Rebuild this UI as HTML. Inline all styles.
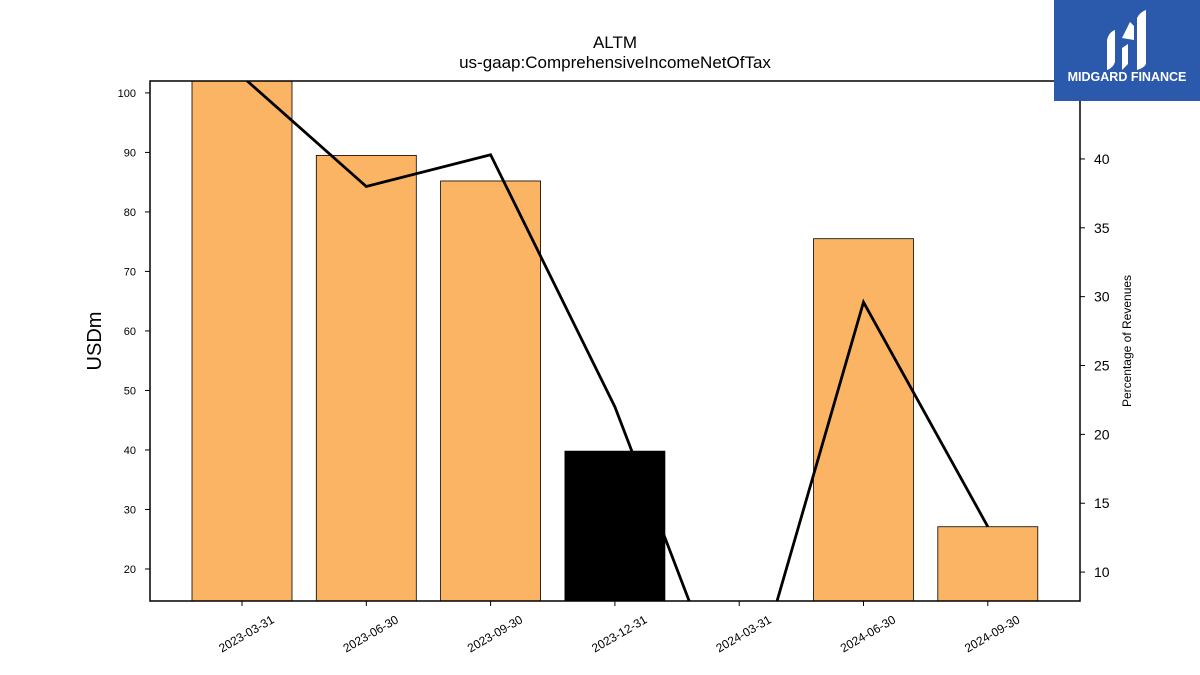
<!DOCTYPE html>
<html><head><meta charset="utf-8"><style>
html,body{margin:0;background:#fff;font-family:"Liberation Sans",sans-serif;width:1200px;height:675px;overflow:hidden}
svg{display:block}
</style></head><body>
<svg id="c" width="1200" height="675" xmlns="http://www.w3.org/2000/svg" style="font-family:'Liberation Sans',sans-serif">
<text x="615" y="48" text-anchor="middle" font-size="17">ALTM</text>
<text x="615" y="68" text-anchor="middle" font-size="17">us-gaap:ComprehensiveIncomeNetOfTax</text>
<g id="bars"></g><g id="line"></g><g id="axes"></g>
<rect x="150" y="81" width="930" height="520" fill="none" stroke="#000" stroke-width="1.5"/>
<text x="101" y="341" text-anchor="middle" font-size="20" transform="rotate(-90 101 341)">USDm</text>
<text x="1131" y="341" text-anchor="middle" font-size="12" transform="rotate(-90 1131 341)">Percentage of Revenues</text>
<g>
<rect x="1054" y="0" width="146" height="101" fill="#2b5aad"/>
<path d="M1107 70 L1107 40 Q1109 32 1115 30 L1115 62 Q1113 68 1107 70Z M1122 70 L1122 48 L1128 44 L1128 64Z M1137 70 L1137 18 Q1140 12 1146 10 L1146 64 Q1144 68 1137 70Z M1122 38 L1130 22 L1134 26 L1134 40Z" fill="#fff"/>
<text x="1127" y="81" text-anchor="middle" font-size="12.5" font-weight="bold" fill="#fff">MIDGARD FINANCE</text>
</g>
</svg>
<script>
const categories=["2023-03-31","2023-06-30","2023-09-30","2023-12-31","2024-03-31","2024-06-30","2024-09-30"];
const barValues=[105,89.5,85.2,39.8,0,75.5,27.1];
const barNegative=[false,false,false,true,false,false,false];
const pctValues=[46,38,40.3,22,-1.6,29.6,13.3];
const leftTicks=[20,30,40,50,60,70,80,90,100];
const rightTicks=[10,15,20,25,30,35,40];
const NS="http://www.w3.org/2000/svg";
const X0=150,X1=1080,Y0=81,Y1=601;
const L0=14.62,L1=102.0,R0=7.9,R1=45.66;
const step=124.3;
const xs=i=>242+step*i;
const yl=v=>Y1-(v-L0)/(L1-L0)*(Y1-Y0);
const yr=v=>Y1-(v-R0)/(R1-R0)*(Y1-Y0);
function mk(t,a,p){const e=document.createElementNS(NS,t);for(const k in a)e.setAttribute(k,a[k]);p.appendChild(e);return e;}
const svg=document.getElementById('c');
const cp=mk('clipPath',{id:'clip'},svg);mk('rect',{x:X0,y:Y0,width:X1-X0,height:Y1-Y0},cp);
const bars=document.getElementById('bars');bars.setAttribute('clip-path','url(#clip)');
categories.forEach((c,i)=>{const v=barValues[i];if(v<=L0)return;const top=yl(v);
const r=mk('rect',{x:xs(i)-50,y:top,width:100,height:Y1-top,fill:barNegative[i]?'#000':'#fbb464',stroke:'#000','stroke-width':0.8},bars);

});
const lg=document.getElementById('line');lg.setAttribute('clip-path','url(#clip)');
const pl=mk('polyline',{points:pctValues.map((v,i)=>xs(i)+','+yr(v)).join(' '),fill:'none',stroke:'#000','stroke-width':2.8},lg);


const ax=document.getElementById('axes');
leftTicks.forEach(t=>{const y=yl(t);mk('line',{x1:X0-5,x2:X0,y1:y,y2:y,stroke:'#000'},ax);
const tx=mk('text',{x:X0-14,y:y+4,'text-anchor':'end','font-size':11},ax);tx.textContent=t;

});
rightTicks.forEach(t=>{const y=yr(t);mk('line',{x1:X1,x2:X1+5,y1:y,y2:y,stroke:'#000'},ax);
const tx=mk('text',{x:X1+14,y:y+5,'font-size':14},ax);tx.textContent=t;

});
categories.forEach((c,i)=>{const x=xs(i);mk('line',{x1:x,x2:x,y1:Y1,y2:Y1+5,stroke:'#000'},ax);
const tx=mk('text',{x:x+33,y:Y1+21,'text-anchor':'end','font-size':12,transform:`rotate(-30 ${x+33} ${Y1+21})`},ax);tx.textContent=c;

});
</script>
</body></html>
